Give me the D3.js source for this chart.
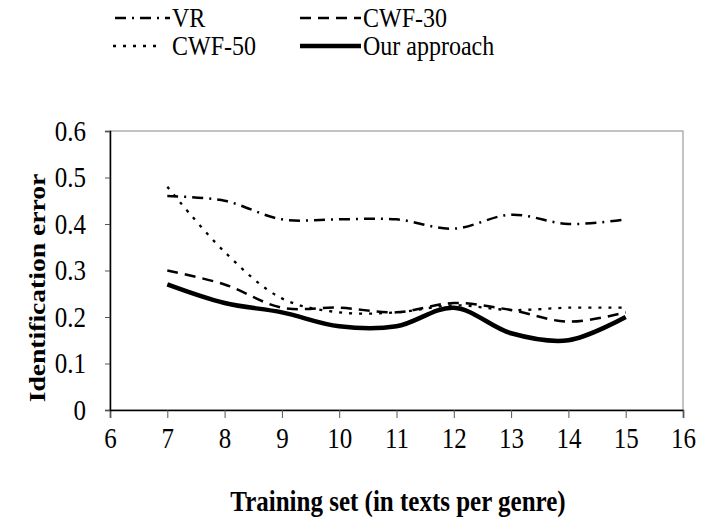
<!DOCTYPE html>
<html>
<head>
<meta charset="utf-8">
<script src="https://cdn.jsdelivr.net/npm/d3@7"></script>
<style>
  body { margin: 0; background: #fff; }
  text { font-family: "Liberation Serif", "DejaVu Serif", serif; fill: #000; }
</style>
</head>
<body>
<div id="chart"></div>
<script>
// data
const trainSizes = [7, 8, 9, 10, 11, 12, 13, 14, 15];
const vrErr = [0.46, 0.45, 0.41, 0.41, 0.41, 0.39, 0.42, 0.40, 0.41];
const cwf30Err = [0.30, 0.27, 0.22, 0.22, 0.21, 0.23, 0.215, 0.19, 0.21];
const cwf50Err = [0.48, 0.34, 0.24, 0.21, 0.21, 0.225, 0.215, 0.22, 0.22];
const oursErr = [0.27, 0.23, 0.21, 0.18, 0.18, 0.22, 0.165, 0.15, 0.20];

const xTicks = [6, 7, 8, 9, 10, 11, 12, 13, 14, 15, 16];
const yTicks = [0, 0.1, 0.2, 0.3, 0.4, 0.5, 0.6];

const width = 701;
const height = 518;
const margin = {top: 131, right: 18, bottom: 108, left: 110};
const stretch = 1.15; // the scan is a bit taller than wide

let svg = d3.select('#chart').append('svg')
    .attr('width', width)
    .attr('height', height);

let x = d3.scaleLinear().domain([6, 16]).range([margin.left, width - margin.right]);
let y = d3.scaleLinear().domain([0, 0.6]).range([height - margin.bottom, margin.top]);

// plot frame (top/right edges grey like excel)
svg.append('rect')
    .attr('x', x(6))
    .attr('y', y(0.6))
    .attr('width', x(16) - x(6))
    .attr('height', y(0) - y(0.6))
    .attr('fill', 'none')
    .attr('stroke', '#888')
    .attr('stroke-width', 1);

let xAxis = svg.append('g')
    .attr('transform', 'translate(0,' + y(0) + ')')
    .call(d3.axisBottom(x).tickValues(xTicks).tickFormat(d3.format('d')).tickSize(8));

let yAxis = svg.append('g')
    .attr('transform', 'translate(' + x(6) + ',0)')
    .call(d3.axisLeft(y).tickValues(yTicks).tickFormat(d => d === 0 ? '0' : d3.format('.1f')(d)).tickSize(5));

[xAxis, yAxis].forEach(g => {
    g.select('.domain').attr('stroke', '#000').attr('stroke-width', 1.5);
    g.selectAll('.tick line').attr('stroke', '#555');
    g.selectAll('.tick text')
        .attr('font-family', '"Liberation Serif", serif')
        .attr('font-size', 25)
        .attr('fill', '#000');
});

xAxis.selectAll('.tick text')
    .attr('y', 0)
    .attr('dy', 0)
    .attr('transform', 'translate(0,38) scale(1,' + stretch + ')');

yAxis.selectAll('.tick text')
    .attr('x', 0)
    .attr('dy', '0.33em')
    .attr('transform', 'translate(-24,0) scale(1,' + stretch + ')');

// series
const series = [
    {name: 'VR', values: vrErr, dash: '11,6,2,6', w: 2.5},
    {name: 'CWF-30', values: cwf30Err, dash: '11,7', w: 2.5},
    {name: 'CWF-50', values: cwf50Err, dash: '3,7', w: 2.3},
    {name: 'Our approach', values: oursErr, dash: null, w: 4.5}
];

let line = d3.line()
    .x((d, i) => x(trainSizes[i]))
    .y(d => y(d))
    .curve(d3.curveCatmullRom.alpha(0.5));

series.forEach(s => {
    svg.append('path')
        .attr('d', line(s.values))
        .attr('fill', 'none')
        .attr('stroke', '#000')
        .attr('stroke-width', s.w)
        .attr('stroke-dasharray', s.dash);
});

// legend
const legendPos = [
    {sx: 115, ex: 170, tx: 172, y: 18},
    {sx: 300, ex: 361, tx: 363, y: 18},
    {sx: 113, ex: 160, tx: 172, y: 46},
    {sx: 300, ex: 361, tx: 363, y: 46}
];

series.forEach((s, i) => {
    let p = legendPos[i];
    svg.append('line')
        .attr('x1', p.sx)
        .attr('x2', p.ex)
        .attr('y1', p.y)
        .attr('y2', p.y)
        .attr('stroke', '#000')
        .attr('stroke-width', s.w)
        .attr('stroke-dasharray', s.dash);
    svg.append('text')
        .attr('transform', 'translate(' + p.tx + ',' + (p.y + 9) + ') scale(1,' + stretch + ')')
        .attr('font-size', 24)
        .text(s.name);
});

// axis titles
svg.append('text')
    .attr('transform', 'translate(398,511) scale(1,' + stretch + ')')
    .attr('text-anchor', 'middle')
    .attr('font-size', 25)
    .attr('font-weight', 'bold')
    .text('Training set (in texts per genre)');

svg.append('text')
    .attr('transform', 'translate(45,288) rotate(-90) scale(' + stretch + ',1)')
    .attr('text-anchor', 'middle')
    .attr('font-size', 24)
    .attr('font-weight', 'bold')
    .text('Identification error');
</script>
</body>
</html>
